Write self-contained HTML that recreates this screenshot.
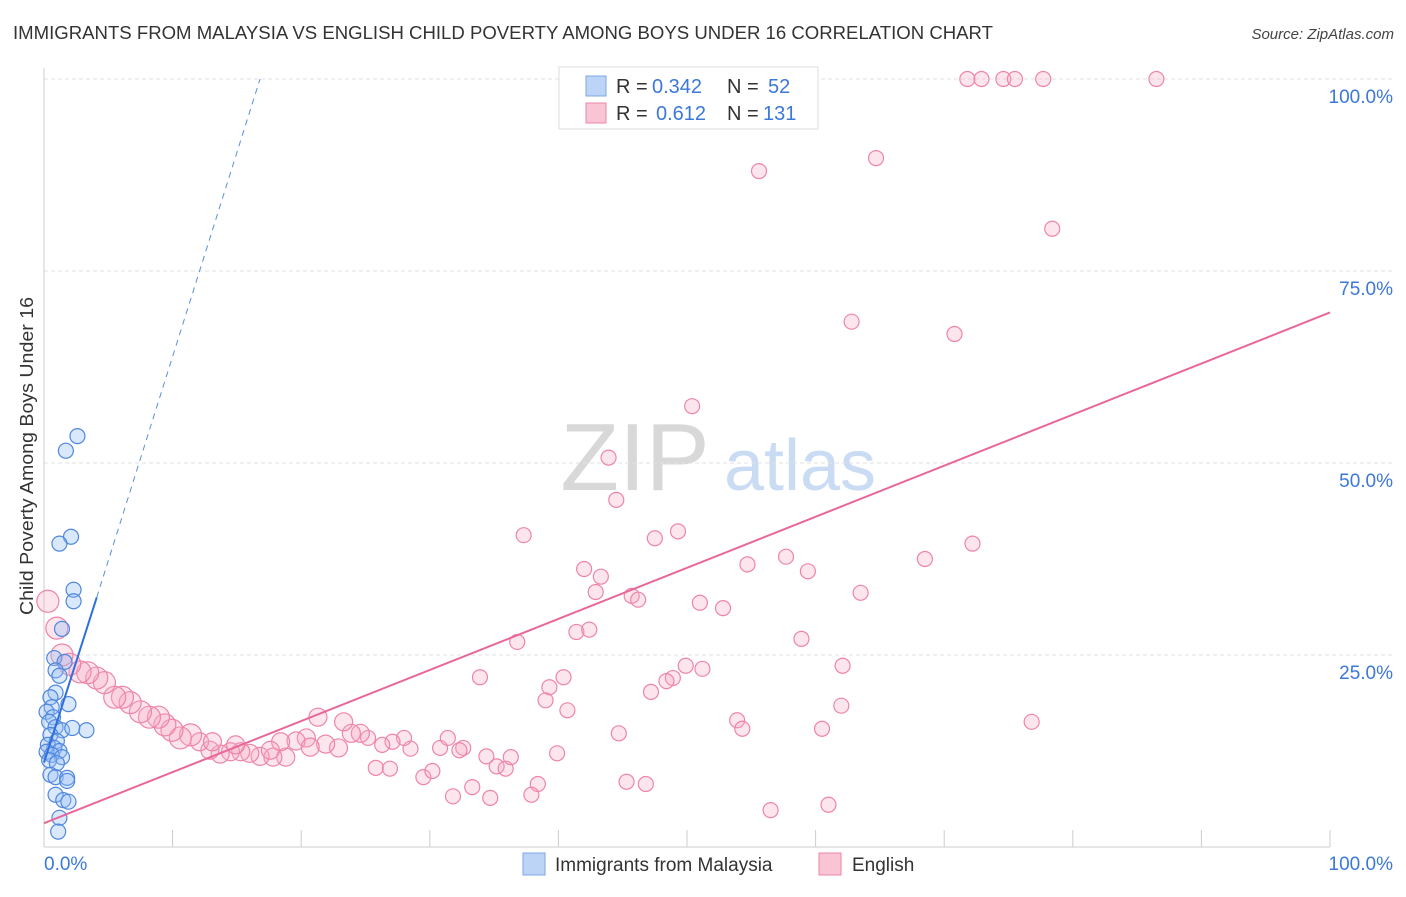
<!DOCTYPE html>
<html><head><meta charset="utf-8">
<style>
body{margin:0;background:#fff;font-family:"Liberation Sans",sans-serif;}
svg text{font-family:"Liberation Sans",sans-serif;}
</style></head>
<body>
<svg id="chart" width="1406" height="892" xmlns="http://www.w3.org/2000/svg">
<text x="13" y="39" font-size="18" fill="#333" textLength="980" lengthAdjust="spacingAndGlyphs">IMMIGRANTS FROM MALAYSIA VS ENGLISH CHILD POVERTY AMONG BOYS UNDER 16 CORRELATION CHART</text>
<text x="1394" y="39" font-size="15" fill="#444" font-style="italic" text-anchor="end">Source: ZipAtlas.com</text>
<g>
<text x="635" y="490" font-size="96" fill="#d8d8d8" font-family="Liberation Serif" text-anchor="middle">ZIP</text>
<text x="800" y="490" font-size="72" fill="#c9dcf3" text-anchor="middle">atlas</text>
</g>
<g id="grid"></g>
<g id="axes"></g>
<g id="marks"></g>
<g id="lines"></g>
<g>
<rect x="559" y="67" width="259" height="62" fill="#fff" stroke="#ddd"/>
<rect x="586" y="76" width="20" height="20" fill="#bcd4f6" stroke="#7aa7e6"/>
<text x="616" y="93" font-size="20" fill="#333">R =</text>
<text x="652" y="93" font-size="20" fill="#3b78d8">0.342</text>
<text x="727" y="93" font-size="20" fill="#333">N =</text>
<text x="768" y="93" font-size="20" fill="#3b78d8">52</text>
<rect x="586" y="103" width="20" height="20" fill="#f9c4d4" stroke="#ec87a8"/>
<text x="616" y="120" font-size="20" fill="#333">R =</text>
<text x="656" y="120" font-size="20" fill="#3b78d8">0.612</text>
<text x="727" y="120" font-size="20" fill="#333">N =</text>
<text x="763" y="120" font-size="20" fill="#3b78d8">131</text>
</g>
<g>
<rect x="523" y="853" width="22" height="22" fill="#bcd4f6" stroke="#7aa7e6"/>
<text x="555" y="871" font-size="19" fill="#333">Immigrants from Malaysia</text>
<rect x="819" y="853" width="22" height="22" fill="#f9c4d4" stroke="#ec87a8"/>
<text x="852" y="871" font-size="19" fill="#333">English</text>
</g>
<text transform="translate(33,456) rotate(-90)" font-size="18" fill="#333" text-anchor="middle" textLength="318" lengthAdjust="spacingAndGlyphs">Child Poverty Among Boys Under 16</text>
</svg>
<script>
const yTicks=[25,50,75,100];
const yTickLabels=["25.0%","50.0%","75.0%","100.0%"];
const xTicks=[0,10,20,30,40,50,60,70,80,90,100];
const blueX=[2.6,1.7,2.1,1.2,2.3,2.3,1.4,0.8,1.6,0.9,1.2,0.9,0.5,1.9,0.6,0.2,0.7,0.4,0.9,1.4,2.2,3.3,0.5,1.0,0.3,0.8,1.2,0.2,0.6,1.4,0.4,1.0,0.5,0.9,1.8,1.8,0.9,1.5,1.9,1.2,1.1];
const blueY=[53.5,51.6,40.4,39.5,33.5,32.0,28.4,24.6,24.1,23.0,22.3,20.1,19.5,18.6,18.2,17.6,16.9,16.3,15.6,15.2,15.5,15.2,14.6,13.8,13.3,12.9,12.5,12.4,12.0,11.7,11.3,10.9,9.4,9.1,9.0,8.6,6.8,6.1,5.9,3.8,2.0];
const pinkX=[58.6,71.8,72.9,74.6,75.5,77.7,86.5,55.6,64.7,78.4,62.8,70.8,50.4,43.9,44.5,37.3,49.3,47.5,72.2,68.5,57.7,54.7,59.4,42.0,43.3,42.9,45.7,46.2,63.5,51.0,52.8,41.4,42.4,36.8,58.9,49.9,51.2,62.1,48.9,48.4,33.9,40.4,39.3,47.2,39.0,40.7,62.0,21.3,53.9,54.3,60.5,76.8,44.7,29.5,30.2,25.8,26.9,31.8,33.3,34.7,35.2,35.9,38.4,37.9,39.9,45.3,46.8,56.5,61.0,34.4,36.3,32.6,32.3,30.8,31.4,28.5,28.0,27.1,26.3,25.2,24.6,23.9,23.3,22.9,21.9,20.4,19.6,18.8,17.8,16.8,16.0,15.3,14.5,13.7,12.9,12.1,11.4,10.6,9.95,9.4,8.9,8.2,7.5,6.7,6.1,5.5,4.7,4.1,3.4,2.8,2.0,1.4,1.0,0.3,18.4,20.7,17.6,14.9,13.1];
const pinkY=[100,100,100,100,100,100,100,88.0,89.7,80.5,68.4,66.8,57.4,50.7,45.2,40.6,41.1,40.2,39.5,37.5,37.8,36.8,35.9,36.2,35.2,33.2,32.7,32.2,33.1,31.8,31.1,28.0,28.3,26.7,27.1,23.6,23.2,23.6,22.0,21.6,22.1,22.1,20.8,20.2,19.1,17.8,18.4,16.9,16.5,15.4,15.4,16.3,14.8,9.1,9.9,10.3,10.2,6.6,7.8,6.4,10.5,10.2,8.2,6.8,12.2,8.5,8.2,4.8,5.5,11.8,11.7,12.9,12.6,12.9,14.2,12.8,14.2,13.7,13.3,14.2,14.8,14.8,16.3,12.9,13.4,14.2,13.8,11.7,11.7,11.8,12.2,12.4,12.4,12.1,12.6,13.7,14.6,14.2,15.2,15.9,16.9,16.9,17.6,18.8,19.5,19.5,21.4,22.0,22.7,22.8,23.8,25.0,28.5,32.0,13.7,13.0,12.6,13.3,13.7];
const blueLine=[0,11.0,4.1,32.5];
const blueDash=[4.1,32.5,16.8,100];
const pinkLine=[0,3.1,100,69.6];
const X0=44,X1=1330,Y0=847,Y1=79;
const sx=v=>X0+(X1-X0)*v/100, sy=v=>Y0-(Y0-Y1)*v/100;
const NS="http://www.w3.org/2000/svg";
function mk(p,t,a){const e=document.createElementNS(NS,t);for(const k in a)e.setAttribute(k,a[k]);p.appendChild(e);return e;}
const grid=document.getElementById('grid'),axes=document.getElementById('axes'),marks=document.getElementById('marks'),lines=document.getElementById('lines');
yTicks.forEach((t,i)=>{
 const g=mk(grid,'line',{x1:X0,x2:1394,y1:sy(t),y2:sy(t),stroke:'#e2e2e2','stroke-dasharray':'4,3'});
 
 
 const l=mk(axes,'text',{x:1393,y:sy(t)+24,'font-size':19,fill:'#3b78d8','text-anchor':'end'});
 l.textContent=yTickLabels[i];
 
 
});
const ax=mk(axes,'line',{x1:X0,x2:X1,y1:Y0,y2:Y0,stroke:'#ccc'});


const ay=mk(axes,'line',{x1:X0,x2:X0,y1:68,y2:Y0,stroke:'#ccc'});


xTicks.forEach(t=>{
 const tk=mk(axes,'line',{x1:sx(t),x2:sx(t),y1:830,y2:Y0,stroke:'#ccc'});
 
 
});
const xl=mk(axes,'text',{x:44,y:870,'font-size':19,fill:'#3b78d8'});xl.textContent='0.0%';


const xr=mk(axes,'text',{x:1393,y:870,'font-size':19,fill:'#3b78d8','text-anchor':'end'});xr.textContent='100.0%';


pinkX.forEach((x,i)=>{
 const r=x<12?11:(x<25?9:7.5);
 const c=mk(marks,'circle',{cx:sx(x),cy:sy(pinkY[i]),r:r,fill:'rgba(246,170,195,0.3)',stroke:'#ee85a8','stroke-width':1.2});
 
 
});
blueX.forEach((x,i)=>{
 const c=mk(marks,'circle',{cx:sx(x),cy:sy(blueY[i]),r:7.5,fill:'rgba(150,190,245,0.35)',stroke:'#4f87de','stroke-width':1.2});
 
 
});
const bl=mk(lines,'line',{x1:sx(blueLine[0]),y1:sy(blueLine[1]),x2:sx(blueLine[2]),y2:sy(blueLine[3]),stroke:'#2f6fdb','stroke-width':2});


const bd=mk(lines,'line',{x1:sx(blueDash[0]),y1:sy(blueDash[1]),x2:sx(blueDash[2]),y2:sy(blueDash[3]),stroke:'#5a8fe0','stroke-width':1,'stroke-dasharray':'6,5'});


const pl=mk(lines,'line',{x1:sx(pinkLine[0]),y1:sy(pinkLine[1]),x2:sx(pinkLine[2]),y2:sy(pinkLine[3]),stroke:'#e8679a','stroke-width':2});


</script>
</body></html>
